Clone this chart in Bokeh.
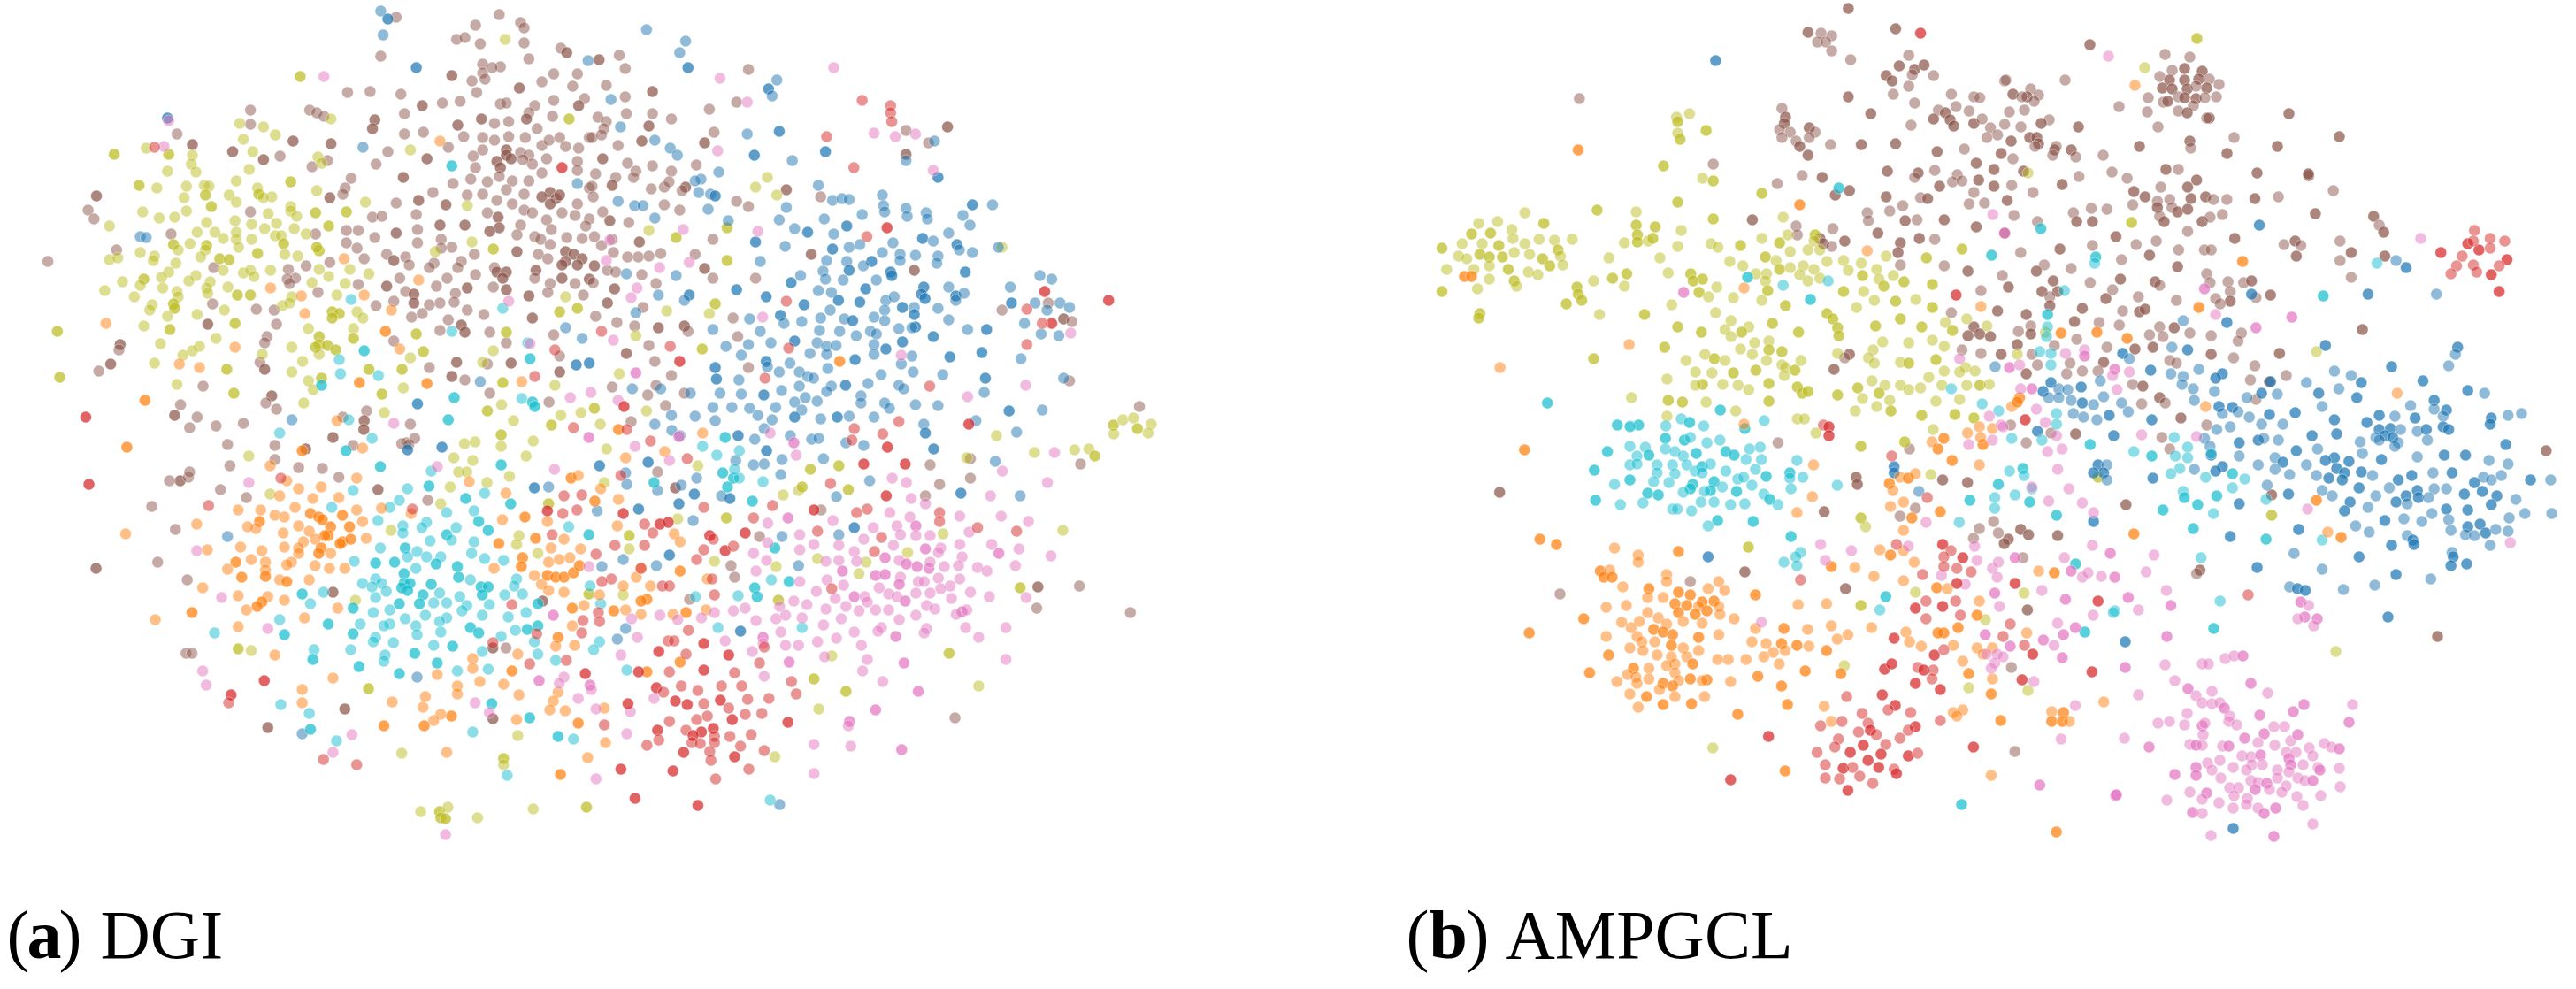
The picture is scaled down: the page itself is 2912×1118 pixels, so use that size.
from bokeh.plotting import figure
from bokeh.models import ColumnDataSource, Range1d
from bokeh.core.properties import value
from bokeh.embed import file_html
from bokeh.resources import INLINE

# (x, y) or (x, y, 1) where the third field marks a stacked, darker point
z1_olive = [(432,52),(259,94,1),(285,142),(208,147),(228,151),(238,160),(211,165),(129,175),(148,182,1),(102,182,1),(168,183),(167,193),(171,202),(147,201),(219,179),(216,199),(274,185),(277,192),(205,212),(251,213,1),(123,217,1),(138,220),(163,218),(178,217),(182,218),(179,228,1),(161,231),(199,228),(205,236),(223,220),(224,227,1),(235,230),(228,231),(273,223),(184,241,1),(126,247),(163,246),(153,253),(140,254),(98,263),(251,241),(251,246),(232,249),(256,252),(272,248,1),(298,247,1),(314,236),(283,263,1),(180,259),(204,257),(218,261),(172,270),(187,270),(205,270),(229,266),(239,260),(254,266),(264,272),(238,274),(243,274),(194,277),(205,278),(218,278),(166,283),(152,284,1),(180,285,1),(207,287),(245,283,1),(156,290),(179,290),(124,293),(246,295),(275,291,1),(273,287,1),(223,294,1),(136,297),(98,301),(105,299),(135,302),(175,298),(191,300,1),(199,301,1),(257,297),(154,305),(194,313),(211,316),(217,313),(220,320),(234,313),(275,312),(301,312),(317,317),(148,315),(142,321),(171,319),(165,325),(183,326),(127,323,1),(109,326),(124,330),(94,336),(119,343),(143,333),(155,337),(156,343),(180,333),(181,339),(198,332),(206,341,1),(217,341,1),(269,327),(283,320),(297,328),(290,341),(134,352),(132,358),(152,351,1),(153,356,1),(147,365),(172,363),(195,358),(244,353),(252,343),(250,350),(286,360,1),(292,362,1),(286,367,1),(307,360),(312,367),(127,376),(149,380,1),(204,373,1),(54,382,1),(266,379),(304,379),(188,390),(141,396),(275,388,1),(275,397,1),(282,398,1),(272,400,1),(289,403,1),(252,400),(275,408),(304,390,1),(174,399),(168,404),(160,409),(227,408),(136,418),(261,416),(352,412),(363,405,1),(357,385,1),(404,281),(400,240),(352,177),(373,292),(422,289,1),(486,142,1),(483,343),(478,360,1),(493,356,1),(422,404),(433,383,1),(413,417),(345,425,1),(317,425,1),(197,425,1),(56,434,1),(155,442),(252,428),(266,438),(277,435,1),(270,448),(346,446),(328,453,1),(430,440,1),(474,443),(203,452,1),(262,463),(429,465),(417,472,1),(330,474),(479,477),(496,474),(507,469,1),(439,483),(471,488,1),(513,488),(428,497,1)]
z1_brown = [(340,27),(327,71),(427,24),(407,36),(445,33),(448,39),(391,52),(398,50),(411,57),(448,56),(479,62),(484,67,1),(452,74),(511,77,1),(413,80),(428,83),(421,84),(413,90),(415,97),(404,99),(387,93,1),(473,91),(493,91),(463,100),(489,105),(517,105),(444,107,1),(408,112),(299,112),(318,111),(344,114),(362,127,1),(379,124),(394,122),(428,125),(433,124),(473,121),(499,119),(494,127,1),(457,127),(452,135),(450,142,1),(347,136),(267,132),(273,135),(279,139),(217,132),(217,148),(155,159),(322,143,1),(320,153,1),(347,159),(363,157),(392,149,1),(412,142,1),(423,147),(435,145),(472,139),(459,153),(510,140),(517,146),(512,153),(397,162),(413,163),(423,166),(435,162),(449,163),(168,171,1),(202,179,1),(253,167,1),(285,170,1),(384,174),(333,179),(366,187,1),(242,184),(228,188,1),(282,189),(269,196),(323,193),(413,177),(405,184),(433,177,1),(433,183,1),(437,187,1),(425,190,1),(428,197,1),(445,180),(452,183),(455,193),(447,188),(463,172),(469,166),(478,163),(483,173),(494,175),(467,187),(493,190),(493,200),(503,163),(510,162),(514,188,1),(407,197),(427,207),(463,203),(508,203),(505,213),(302,209),(297,220),(295,227),(284,231,1),(346,208,1),(403,210),(388,215),(417,213),(438,212),(452,212),(433,222),(413,227),(371,225),(400,228),(359,234,1),(340,237),(382,239,1),(425,234),(438,238),(448,227),(448,245),(470,225,1),(463,230,1),(475,232,1),(470,238,1),(478,228,1),(493,238),(506,230),(503,220),(520,217),(87,229,1),(80,245),(85,255),(217,247),(320,253),(328,252),(357,250),(417,248),(426,253,1),(427,265,1),(455,248),(467,256),(480,248),(491,251),(503,255),(514,247),(519,258,1),(377,262,1),(398,262,1),(358,267),(419,269,1),(445,262),(471,267),(500,263),(298,268),(308,268),(340,271,1),(322,276),(272,272),(150,272),(442,273),(457,275),(462,278),(484,276),(497,277),(507,275),(298,282),(358,282),(378,278),(387,287),(378,288),(470,284),(513,287),(307,288),(104,290),(442,292,1),(406,295),(460,295),(468,300),(483,292,1),(490,295,1),(483,303,1),(497,300,1),(505,297,1),(493,307,1),(480,307,1),(508,308,1),(332,295),(338,302,1),(348,298),(351,307),(313,300),(284,304),(264,308),(186,310),(249,312),(395,303),(392,310),(372,305),(368,310),(423,310),(425,315,1),(433,315,1),(430,322,1),(458,313,1),(457,322),(407,318),(343,322),(383,322),(255,322),(248,323),(250,328),(480,322,1),(503,323,1),(520,313),(470,328),(468,338),(491,328),(332,331,1),(308,329),(374,331),(400,333,1),(422,332),(433,335,1),(348,337),(274,338),(390,339),(452,342,1),(498,341),(355,340,1),(355,350,1),(338,348),(323,353),(389,349),(377,350),(368,352),(400,358),(185,351),(222,357),(237,358),(353,366),(362,362),(414,363),(455,367,1),(509,365),(518,351,1),(384,369),(181,374,1),(239,374),(377,381),(395,375,1),(398,383,1),(419,383),(473,386),(433,395),(231,388),(229,395),(338,393),(107,397,1),(106,403),(478,410),(391,417,1),(437,418,1),(417,419),(368,423),(225,417),(229,425,1),(99,419,1),(89,427),(478,428,1),(177,444),(398,437),(419,452),(469,462),(522,445),(235,455,1),(230,463),(239,470),(158,465),(153,477,1),(172,479),(188,489),(211,486),(202,492,1),(143,492),(166,492),(315,472),(295,479),(313,483,1),(313,492,1),(272,494,1),(352,487),(406,493),(449,493),(46,303),(387,433,1)]
z1_blue = [(327,20),(333,29,1),(329,47),(357,84,1),(502,76),(521,120),(147,141,1),(312,174),(124,275),(129,276),(493,215),(497,390),(483,378),(492,420,1),(503,418,1),(411,439),(358,464,1),(252,482)]
z1_cyan = [(387,195,1),(302,346),(313,404,1),(292,414),(293,430),(325,432),(387,382),(430,356),(453,413,1),(451,395),(389,457,1),(446,458),(455,462,1),(457,467,1),(384,482,1),(277,443,1),(300,482),(242,497)]
z1_orange = [(377,167),(296,300),(359,324),(234,333),(260,342),(313,341),(263,362),(336,358),(331,382,1),(95,373),(204,400),(343,402),(157,419),(174,423),(128,460,1),(309,440,1),(366,441,1),(446,439),(290,483)]
z1_red = [(136,174),(480,197,1),(78,479,1),(68,499),(457,433),(474,403),(513,382),(489,491)]
z1_pink = [(279,94),(144,173),(148,144),(435,348),(453,396),(487,457),(504,451),(338,486),(518,300),(522,280),(522,392)]

z2_brown = [(676,75,1),(693,70),(698,85),(658,90,1),(653,105),(682,104),(721,111,1),(698,117),(664,119),(658,127,1),(699,136),(721,136),(718,150,1),(737,142),(769,131),(802,86),(792,123),(675,140),(682,145),(680,153),(670,163),(678,160),(712,167,1),(692,172),(659,175),(773,157),(765,169,1),(679,187,1),(658,192),(658,200),(700,192),(721,195),(758,194),(707,201),(705,208),(737,201),(673,204),(690,208),(670,218),(687,217,1),(720,221),(731,219),(735,213),(749,219,1),(746,223),(671,230),(658,233),(657,238),(731,239),(744,245),(792,235),(802,241),(679,247),(655,250),(667,255),(685,257,1),(701,259),(665,263),(863,230),(834,222,1),(672,275),(660,277),(687,278),(678,285),(710,281,1),(772,278),(688,293),(700,298),(709,298),(718,297),(728,294),(757,295),(765,311,1),(655,293,1),(660,298,1),(653,305,1),(672,308,1),(683,313),(690,315),(712,318),(772,322),(808,322),(855,295,1),(942,313,1),(668,323,1),(657,328),(671,327),(724,328),(689,334,1),(662,341),(683,350,1),(713,355),(673,365),(789,367),(1016,358),(691,372),(706,376),(726,378,1),(748,376,1),(751,382),(793,388),(665,381),(718,398),(699,407,1),(723,416),(655,421),(802,423),(737,432),(687,445),(724,443),(717,454),(748,452),(732,466),(703,484),(1073,438),(1132,467),(1068,368,1),(1075,371),(1055,350),(935,155),(935,182,1),(954,169),(970,151,1)]
z2_blue = [(716,41),(749,54),(744,67),(751,84,1),(666,76),(826,98),(819,108,1),(822,116),(686,120),(694,151),(723,166),(736,175),(742,183),(801,159),(828,156,1),(807,183,1),(839,189),(867,179,1),(959,167),(935,189),(777,202),(762,210),(757,212),(760,225),(770,227),(774,229,1),(861,217),(962,208,1),(873,234),(881,232),(887,233),(915,228),(916,240),(917,247),(935,243),(936,252),(952,248),(953,255),(991,239,1),(1008,239),(983,251),(989,262),(898,250),(866,255),(834,242),(828,256),(768,244),(723,254),(706,240),(713,240),(692,235),(658,215),(785,257),(841,266),(852,270,1),(885,263,1),(874,272),(808,281,1),(833,286),(949,277,1),(958,280),(971,271),(978,284,1),(980,290),(991,293),(1013,287),(887,287),(896,284),(873,289,1),(915,293),(924,282),(930,295),(930,302),(943,296),(962,297),(961,305),(868,302),(885,303),(812,303),(906,303,1),(899,308),(865,314),(887,313,1),(922,315,1),(923,319,1),(985,315,1),(699,317),(741,319),(846,319),(838,327,1),(867,323),(882,324),(910,324),(901,334,1),(950,332,1),(948,340,1),(951,345,1),(971,332),(977,342,1),(977,347),(984,339),(792,335,1),(861,336),(872,338),(878,347,1),(1023,332),(1024,350,1),(752,341,1),(726,341),(748,347),(817,343,1),(849,352,1),(896,349,1),(918,347),(925,343),(932,355,1),(942,355),(942,363,1),(962,356),(871,358),(917,358),(917,370),(707,361),(803,368),(829,364,1),(832,373),(847,371),(863,367),(883,368),(890,370,1),(908,366),(971,369),(1035,373),(1044,350),(1065,350),(1073,355),(1054,358),(1049,385),(1064,387),(1048,319),(1058,323),(772,380),(812,382),(862,381),(879,382),(905,382),(910,385),(929,379),(943,377,1),(940,378),(987,380),(1003,380,1),(662,390),(821,395),(841,393,1),(860,395),(893,387),(908,397),(932,394,1),(958,388,1),(783,399),(802,397),(868,399),(876,398),(918,402,1),(854,407),(796,409),(868,408),(908,408),(940,410),(972,411,1),(999,406,1),(1032,413),(892,414,1),(817,416,1),(837,418),(667,418,1),(657,421,1),(774,423,1),(818,422),(869,424),(931,419),(845,428),(852,433),(828,428),(857,435),(914,431),(941,428),(966,431),(775,436,1),(1002,435,1),(794,437),(1068,435),(845,444),(884,443,1),(903,441),(929,443),(933,447),(872,444),(868,450),(704,447),(728,447),(753,452),(778,452),(796,453),(815,454,1),(830,449),(1001,451),(850,457),(841,462),(860,461),(897,455),(897,463),(917,463),(921,469),(943,465),(962,466),(772,468),(788,468),(803,469),(810,477),(825,468),(847,471),(1022,472,1),(1050,471),(737,477),(757,478),(774,483),(822,482),(816,492),(841,479,1),(863,481),(877,479,1),(887,478),(908,479),(950,487),(723,487),(738,493),(994,483),(1028,496),(952,497,1),(793,497,1)]
z2_red = [(898,121),(922,127),(922,135),(923,145),(868,162),(891,197),(902,275),(919,265,1),(1052,337,1),(834,348),(1037,357),(1058,373,1),(1050,373),(1037,397),(1106,347,1),(678,382),(736,399),(836,401),(744,416,1),(816,435),(955,444),(697,467,1),(891,492),(929,484),(655,490),(699,493),(988,487,1),(915,498)]
z2_pink = [(874,84),(778,96),(801,123),(908,158),(926,162),(943,159),(776,178),(958,200),(810,269),(747,267),(685,279),(682,302),(727,310),(752,304),(708,333),(703,344),(814,366),(688,392),(931,409),(707,429,1),(669,451),(692,460),(653,457),(1036,443),(1074,384),(987,456),(821,497),(667,499)]
z2_olive = [(818,208),(808,219),(826,228),(718,268),(741,276,1),(784,265,1),(784,302,1),(774,351,1),(769,362),(733,359),(763,402,1),(707,387),(657,355,1),(693,430),(716,472),(672,469,1),(660,474),(677,487),(1016,287),(1012,497),(1110,488,1),(1118,482),(1127,480),(1130,492,1),(1142,487)]
z2_orange = [(667,486,1),(879,416,1)]

z3_blue = [(277,483),(404,513,1),(375,516,1),(537,534,1),(578,530,1),(583,487),(598,495),(605,498),(482,559,1),(494,558),(559,542),(560,555),(606,556),(618,548),(617,566,1),(535,585),(570,583,1),(603,577,1),(616,596),(597,634,1),(557,640),(585,647),(539,648),(223,614),(559,718),(552,730),(383,773),(286,837)]
z3_cyan = [(267,497),(345,503),(323,517,1),(352,535,1),(395,540),(454,533,1),(393,557,1),(375,560),(329,562),(424,571,1),(440,565),(368,573),(311,581),(360,581),(462,577,1),(408,587),(431,585),(350,596),(435,597,1),(371,602),(391,598),(387,604),(443,607,1),(416,604),(408,612,1),(371,610),(394,619),(412,618),(431,620),(352,627),(373,627,1),(375,637),(383,631),(391,637),(403,637),(429,633),(440,639),(456,641),(330,642),(348,644,1),(364,643,1),(399,645,1),(417,648,1),(418,660,1),(382,650),(372,656,1),(348,662),(337,667),(353,667),(345,671),(428,663),(467,662),(395,668,1),(372,667,1),(377,667,1),(370,672,1),(375,675,1),(357,676),(286,679,1),(304,677),(388,680,1),(385,690,1),(402,678),(437,671,1),(443,671,1),(438,680,1),(457,680),(465,670),(472,679),(419,682),(348,683),(293,690),(368,690,1),(397,689),(408,689),(425,692),(444,691),(485,690,1),(329,695,1),(346,700),(360,697),(421,698),(438,703),(460,705),(475,700),(373,707),(390,703),(408,706),(402,710),(267,708),(335,713),(360,713),(355,715),(382,715),(383,725),(308,713,1),(403,722),(428,717,1),(435,723,1),(466,720),(476,719,1),(485,715,1),(212,723),(271,725,1),(329,724,1),(348,728),(346,733),(363,734),(454,727),(482,733),(537,733),(532,742),(327,742),(397,737),(413,738,1),(296,742),(295,753,1),(381,746,1),(438,744),(485,747),(356,748),(355,755),(500,754),(334,761,1),(400,757,1),(368,769,1),(417,766),(443,764),(560,765),(446,803,1),(268,804),(292,814),(293,832,1),(315,845),(478,819,1),(430,835),(502,840,1),(515,843),(459,884),(583,553,1),(587,562),(511,603),(528,612,1),(620,513),(529,670),(538,690),(618,683)]
z3_orange = [(138,513,1),(137,611),(286,517,1),(337,514),(259,534),(332,548),(273,551),(283,560),(302,558),(267,568),(295,571),(317,570),(280,581),(232,584),(251,584),(332,584),(353,582),(197,600),(263,590),(271,592),(293,588,1),(300,592,1),(303,595,1),(320,590,1),(378,588),(250,597,1),(247,605),(240,603),(283,602),(292,608),(310,603,1),(308,613,1),(305,613,1),(326,603,1),(337,597),(270,610),(320,620,1),(327,617,1),(340,616),(287,620),(283,627),(297,617),(234,626),(271,626),(206,629),(252,630),(302,627,1),(300,633,1),(310,633),(318,622,1),(283,633),(243,640),(230,643,1),(223,651),(255,643),(255,652),(277,643),(273,646),(297,647),(309,650),(322,650),(235,660,1),(255,659,1),(267,663),(273,665,1),(292,663),(202,672),(232,681),(271,686),(257,682),(252,688,1),(248,693,1),(239,697),(316,695),(288,706),(193,700,1),(162,708),(232,716),(263,748),(430,752),(430,763),(468,747),(463,766,1),(400,770),(436,778),(456,781),(312,774),(286,787),(286,802),(417,783),(417,792),(390,795),(388,807),(362,801),(469,793),(502,790),(498,800),(495,810),(508,811),(412,817,1),(403,815),(397,822),(389,828,1),(355,828,1),(467,821),(519,825,1),(541,808),(542,847),(527,864),(408,858),(504,883,1),(452,622,1),(455,595),(474,592,1),(458,565),(427,552),(493,597),(483,616,1),(507,617),(472,638,1),(471,648,1),(448,650),(496,627),(494,643),(521,628),(512,638),(503,640),(482,658),(488,668),(493,658,1),(500,660,1),(507,660,1),(515,655,1),(520,647,1),(494,675),(507,677),(533,574,1),(538,560),(553,572),(513,548,1),(519,545),(559,525),(552,602),(592,518),(553,493,1),(549,698,1),(559,697),(524,692),(514,695,1),(514,715),(572,702),(577,685,1),(572,687,1),(580,670),(568,660),(572,650),(557,670),(537,680),(599,612),(606,620),(502,728,1),(500,738),(516,737),(577,767,1),(605,756,1),(610,700,1),(598,702)]
z3_red = [(106,555,1),(268,548),(207,579),(379,583),(515,491),(560,493),(580,506),(611,526),(555,545),(507,568),(522,567),(493,585,1),(506,588),(518,584),(557,588,1),(575,600),(582,610),(590,602,1),(593,598,1),(497,612),(575,624),(550,624),(534,634),(463,691),(572,650),(547,662),(539,665),(588,670),(597,670),(536,700),(537,710),(523,709),(522,723),(484,724),(447,734),(613,720),(478,758),(509,754),(597,766),(587,745,1),(593,733),(600,732),(611,747),(525,769,1),(570,767,1),(254,777,1),(226,793,1),(224,802),(304,866),(332,872),(541,827),(561,803,1),(585,785,1),(592,790),(607,784),(600,800),(612,804,1),(595,823),(587,833,1),(577,850),(608,858,1),(555,877,1),(599,879,1),(567,910,1),(619,918,1),(610,835),(615,845),(620,822)]
z3_pink = [(363,487),(400,535),(241,553),(499,538),(567,512),(596,528),(528,502,1),(528,648),(197,630),(218,683),(257,718),(202,766),(205,782),(312,858),(328,838),(432,802),(444,813),(534,809),(486,777,1),(507,773),(503,780),(529,782,1),(530,787),(519,797),(560,837),(534,888),(407,951),(583,797),(563,812),(555,748),(569,728),(498,703,1),(564,707),(588,704),(603,708),(600,683),(622,705)]
z3_olive = [(241,523),(259,566),(414,525),(430,528),(423,509),(432,507),(454,499,1),(454,512),(463,484),(481,506),(475,523),(496,489,1),(538,488),(543,515),(418,541),(425,541),(411,558),(442,553),(461,546),(403,577),(541,553),(494,577,1),(361,607),(469,613),(467,623),(485,633),(562,613,1),(562,628),(603,594),(619,534),(557,680),(528,679,1),(331,686),(232,741,1),(243,743),(342,786,1),(468,839),(370,859),(456,865,1),(456,872),(386,925),(402,925,1),(403,932,1),(407,933,1),(409,920),(434,932),(481,922),(526,920,1)]
z3_brown = [(168,487),(191,491),(226,487,1),(236,485),(256,488,1),(223,510),(263,511),(263,527),(225,534),(289,515,1),(326,487,1),(338,493,1),(312,502,1),(329,511),(370,509),(374,508),(376,510),(381,503),(183,551,1),(190,547),(174,551),(191,541),(283,536),(303,537),(317,547),(217,561),(239,570),(159,580),(350,561,1),(392,573),(179,606),(312,677,1),(164,643),(189,663),(447,740,1),(458,740),(489,687,1),(188,746),(193,746),(322,809,1),(257,830,1),(112,650,1),(447,820,1)]

z4_orange = [(705,492,1),(776,497),(744,518),(711,524),(707,573),(703,602),(752,611),(757,620),(728,638),(702,645,1),(757,653,1),(722,657),(722,667),(709,670),(732,670),(733,688),(725,685,1),(780,662),(712,696),(723,702),(735,703),(751,702),(762,700,1),(779,697),(757,756,1),(730,767,1)]
z4_blue = [(736,487),(750,494),(757,500),(787,484),(820,504),(828,492),(806,500,1),(850,500),(868,504),(874,503),(897,508),(912,511),(853,482,1),(876,483),(890,482,1),(920,482),(963,487),(964,497,1),(971,515,1),(1041,496),(830,517,1),(729,530,1),(804,528),(819,533),(828,532),(843,527),(878,526),(842,544),(771,548),(758,556),(738,562),(712,553),(769,566,1),(792,568),(799,571,1),(917,551),(889,569),(1044,568),(1023,529),(994,565,1),(722,583,1),(756,577,1),(768,596),(904,604,1),(891,612),(843,614),(857,647),(748,635,1),(737,647),(709,640),(808,721,1),(841,917)]
z4_cyan = [(776,512),(788,522),(807,485),(795,502,1),(807,517),(793,542,1),(802,548,1),(807,548),(797,558,1),(803,538),(827,552),(818,574,1),(734,553,1),(837,627,1),(834,663),(849,665,1),(820,672,1),(822,682,1),(806,681),(770,682),(789,717),(860,717),(833,912),(712,764),(705,728)]
z4_red = [(904,492),(712,495,1),(928,498),(902,505),(932,513,1),(733,506),(763,526),(942,485),(1001,487,1),(947,532,1),(912,532,1),(884,554),(931,568,1),(777,581),(709,589,1),(727,601),(740,600,1),(747,598,1),(734,611),(819,593),(835,579),(906,587),(915,583),(976,587),(976,597),(782,613,1),(785,617),(812,610,1),(873,608),(927,615),(1008,604),(1041,608),(870,584,1),(703,625),(727,624),(777,629),(795,630,1),(802,625),(771,640),(921,631),(725,650),(784,662),(742,670),(748,670),(885,673),(786,680),(764,720),(747,732),(752,732),(777,735,1),(739,744,1),(762,747),(798,748,1),(748,767),(777,765,1),(722,770,1),(803,768),(824,757),(828,739),(737,785),(743,790),(758,783),(772,788),(792,783),(809,783),(851,778),(855,792),(753,800,1),(763,804,1),(777,803),(791,799,1),(814,798),(832,797),(713,803,1),(798,808),(812,815),(826,814),(801,821,1),(780,817),(771,821),(748,823),(848,824,1),(738,833,1),(762,833),(775,835,1),(785,831,1),(768,839,1),(786,840),(799,840),(817,838),(739,844),(728,850),(767,847),(774,848),(786,847),(808,851),(760,858,1),(782,857),(828,856),(803,863,1),(783,867),(815,877),(707,877,1),(751,879,1),(787,888),(718,910,1),(772,918,1)]
z4_pink = [(719,512),(748,528),(833,497),(855,522),(756,501,1),(853,508,1),(1029,540),(1073,519),(1067,553),(936,548),(948,553),(952,571),(964,577),(1019,568),(934,587),(848,593,1),(831,599),(886,596),(951,592),(956,602,1),(940,602),(920,604),(993,591),(1028,591),(1051,597),(1001,609),(858,612),(943,612),(956,613),(968,613),(912,617),(831,621),(870,623),(891,624),(937,624),(993,623),(1020,623),(1043,628),(964,628,1),(977,627),(975,632),(858,629),(904,631),(819,633),(830,641),(1070,636),(1026,633,1),(930,638,1),(995,637),(880,642),(891,641),(906,642),(942,641),(948,645,1),(957,648,1),(967,650,1),(968,643),(980,648),(992,647),(1008,649),(1016,653),(1040,647),(821,653),(894,653,1),(922,658,1),(930,657,1),(943,660),(958,665),(975,661),(993,662),(858,665),(881,663),(895,669),(925,672),(942,668,1),(963,665),(985,670),(977,673),(872,676),(904,682,1),(913,682),(933,679),(956,678),(968,678),(1002,677),(888,684),(940,682),(947,687,1),(915,688),(986,684),(1018,682),(1049,683),(853,687),(864,691),(897,693),(841,693),(812,695),(802,698),(880,696),(908,698),(922,697),(933,697),(965,692),(972,696),(995,699,1),(990,702),(999,697),(956,703),(786,700),(775,706),(740,703),(755,708),(717,707),(821,709),(838,707),(846,703),(860,706),(893,707),(942,708),(878,714),(842,722),(904,722),(927,717),(924,721),(965,718),(963,723),(998,717),(1032,717),(939,727,1),(1009,728),(889,729),(873,733),(722,729),(795,732),(827,728,1),(827,735),(846,737),(857,737),(910,737),(818,744),(879,750),(915,753),(849,756,1),(946,757,1),(1032,753),(708,748),(828,772),(911,766),(928,778),(958,789,1),(735,797),(922,810,1),(900,823,1),(899,828),(712,836),(870,849),(901,851),(944,855,1),(870,882),(716,813)]
z4_olive = [(772,534),(755,594),(714,628),(709,680),(796,593,1),(786,642),(714,613,1),(844,567),(857,562),(860,558,1),(867,538,1),(891,534,1),(899,561,1),(999,525),(1024,500),(1056,519),(1090,516),(1102,515),(1107,523,1),(1123,488,1),(1123,498),(1132,485),(1140,483),(1143,492,1),(1155,486),(1152,497),(979,611),(1080,607),(873,639),(914,643),(949,632),(908,656),(838,648),(1044,672,1),(840,686,1),(885,749),(984,746,1),(870,775,1),(897,789,1),(1009,783),(874,809),(837,863)]
z4_brown = [(715,495),(713,493),(738,541),(753,559,1),(714,567),(708,614),(709,587),(824,614),(800,647),(803,660),(765,685),(968,533),(1002,526),(1002,548),(976,555),(964,568),(876,584),(1095,532),(1059,671,1),(1094,670),(1058,695),(989,819),(1137,700)]

z5_olive = [(1826,140),(1837,136),(1827,145,1),(1851,155,1),(1827,158),(1829,165,1),(1815,195,1),(1848,209),(1857,212,1),(1827,236,1),(1898,226,1),(1759,245,1),(1698,248),(1792,247),(1792,262,1),(1808,264,1),(1857,255,1),(1916,253),(1659,260),(1675,258),(1714,260,1),(1653,272,1),(1669,271,1),(1687,267),(1688,277),(1830,268),(1645,283),(1628,288,1),(1662,283),(1676,285,1),(1710,278),(1723,279),(1738,278),(1698,283),(1660,295,1),(1668,298,1),(1679,298,1),(1642,297),(1649,300),(1689,293),(1702,295),(1726,290,1),(1728,297),(1713,300,1),(1719,308,1),(1730,307),(1632,312),(1668,308),(1684,312,1),(1701,315),(1709,318),(1655,312),(1668,323),(1689,325,1),(1691,331),(1658,334),(1628,337,1),(1660,362,1),(1659,367,1),(1782,282),(1793,273,1),(1793,281,1),(1802,280),(1806,277,1),(1827,286),(1855,283),(1861,287),(1880,285,1),(1898,277),(1913,282,1),(1920,273),(1943,273,1),(1942,280),(1769,299),(1812,299),(1871,303),(1901,298,1),(1922,292),(1937,290),(1947,290),(1882,308),(1910,302),(1953,303),(1967,302),(1982,305),(2003,297),(2037,299,1),(2067,289,1),(1971,313),(1995,312),(1893,317),(1902,317),(1913,312,1),(1922,310),(1933,308),(1942,312),(1819,316),(1838,317,1),(1848,323,1),(1840,325,1),(1983,319,1),(1997,323),(2009,319),(1930,318),(1937,325),(1947,322),(1901,325),(1756,325),(1772,322,1),(1784,317,1),(1782,331),(1742,332,1),(1743,340,1),(1733,351,1),(1746,347,1),(1845,338,1),(1860,332),(1853,343),(1874,344),(1903,336,1),(1898,347),(1918,353,1),(1967,337,1),(1984,337),(2001,331,1),(2018,326,1),(2042,329,1),(1993,347),(2011,348,1),(2028,346),(1978,355),(2042,355,1),(1822,352),(1761,363),(1799,363,1),(1859,361),(1953,362,1),(1958,368,1),(1962,378,1),(1963,387,1),(2015,368,1),(1827,377,1),(1847,383,1),(1907,373,1),(1929,383,1),(1994,376,1),(2033,377,1),(2053,372),(2059,381,1),(2071,368),(2088,376),(1872,370),(1867,380),(1887,377),(1881,383,1),(1872,388),(1816,400,1),(1892,395),(1880,402),(1904,393),(1904,403,1),(1915,405,1),(1756,413,1),(1834,415),(1850,408),(1858,413,1),(1867,415),(1890,408),(1931,415),(1902,415),(1915,420),(1962,407),(1992,403),(2000,394),(1988,412),(1993,418),(2022,395),(2042,392),(2052,399),(2015,417),(2022,418,1),(2045,414,1),(1842,428),(1856,429),(1874,429,1),(1893,426,1),(1918,423),(1926,426,1),(1917,432),(2052,427),(2070,423),(2065,428),(2078,427),(1818,436),(1848,442,1),(1842,443),(1865,442),(1878,443),(1887,448),(1904,441,1),(1928,445,1),(1932,452,1),(1937,450,1),(1962,454,1),(1979,446,1),(1991,438),(2002,443),(1997,452,1),(2015,443),(2022,448),(2032,446),(2039,434),(2050,443),(2071,443),(2082,443,1),(2090,442),(1983,458),(1995,467),(2006,460),(2007,472,1),(2045,461),(2065,459),(1788,457),(1819,460,1),(1831,462,1),(1851,462),(1904,461,1),(1977,472),(1876,472),(2061,476,1),(2033,477,1),(1928,481),(1934,481),(1818,478),(2077,480,1),(2044,493)]
z5_brown = [(1971,17,1),(1937,44,1),(1948,45),(1957,48),(1945,55),(1952,55),(1957,65),(2011,40,1),(1973,75),(2022,70),(2014,82,1),(2027,86,1),(2035,81,1),(2003,93,1),(2008,99,1),(2022,105),(2025,92),(2043,93),(2009,114),(1971,117,1),(1744,119),(2027,124),(1990,136,1),(2103,99),(2111,114,1),(2120,117),(2058,114),(2077,117),(2082,118),(2047,132),(2053,135,1),(2062,128),(2043,142,1),(2057,143,1),(2060,150,1),(2073,133),(2077,147,1),(2084,142),(2107,135),(2118,132),(2024,149),(1915,130),(1918,140,1),(1917,147,1),(1913,154),(1922,157),(1915,163),(1938,152,1),(1943,157),(1938,163),(1927,167),(1930,173,1),(1937,183,1),(1956,171),(1982,171,1),(2011,170,1),(2091,152),(2097,160),(2088,163),(2103,148),(2117,150),(2108,167,1),(2100,181,1),(2110,187),(2046,179,1),(2069,176),(2079,192,1),(2094,199,1),(2004,201,1),(2030,203,1),(2027,208),(2044,200),(2063,205),(2059,213),(2067,212),(2081,211,1),(2048,218,1),(2094,218,1),(2109,218,1),(2077,225),(2003,230,1),(2032,231),(2038,232,1),(2073,238),(2086,237),(2105,233,1),(2017,240),(2006,246),(1987,248),(1988,257),(2019,257,1),(2029,256),(2052,256,1),(2079,264,1),(2111,252),(1890,256,1),(1927,263),(1928,273),(1958,266),(1996,271,1),(2031,277,1),(2044,278),(2103,271,1),(1947,277,1),(1950,283,1),(1957,286),(1968,280,1),(2015,282,1),(2013,293,1),(2015,307),(2052,308),(2072,314,1),(2117,293),(2101,319),(2107,332,1),(2083,336),(2097,359,1),(2058,361),(2122,362,1),(2115,382),(2077,377,1),(2072,387,1),(2082,385,1),(2091,388,1),(2113,397,1),(2100,408,1),(2067,403),(2083,407),(1972,408,1),(1968,412),(1959,425,1),(1857,193),(1932,206),(1911,215),(1949,208,1),(1972,223,1),(1960,228,1),(2108,488)]
z5_blue = [(1859,76,1),(2095,422),(2108,440)]
z5_cyan = [(1963,220,1),(1886,321,1),(1916,330),(1954,325),(1939,346,1),(1717,463,1),(1863,471,1),(1900,483),(1776,488,1),(1787,489),(1794,488,1),(1817,489),(1830,481),(1837,485,1),(1849,489),(1883,492,1),(2092,296,1),(2058,447),(2084,464),(2098,472),(2110,473)]
z5_orange = [(1743,177,1),(1930,239,1),(1987,291),(1883,333),(1647,320,1),(1653,320,1),(1786,397),(1677,423),(2083,354),(2113,453,1),(2110,465,1),(2070,497),(2082,490),(2093,492),(1883,487)]
z5_red = [(2032,45,1),(1954,492,1),(1950,488),(1958,493,1),(2062,341,1),(2117,457,1),(2118,482,1)]
z5_pink = [(1832,338,1),(2093,250),(2103,271,1),(2065,413),(2108,423),(2117,420),(2110,430),(2090,478),(2100,488),(2100,497),(2120,443,1)]

z6_blue = [(2496,262,1),(2618,302),(2627,310,1),(2593,340,1),(2654,340),(2489,340,1),(2428,370),(2467,372,1),(2555,398,1),(2432,403,1),(2418,400),(2673,400,1),(2671,408),(2374,407,1),(2380,413),(2665,421),(2614,422,1),(2399,426,1),(2442,425),(2463,430,1),(2457,435,1),(2563,427),(2578,432),(2587,440,1),(2642,438,1),(2417,430),(2428,433),(2427,442),(2437,447),(2506,439,1),(2354,438),(2337,445,1),(2538,440),(2310,440,1),(2303,450,1),(2317,447),(2308,457),(2325,448),(2317,457),(2456,450),(2498,452,1),(2485,457),(2512,453),(2549,452,1),(2567,447),(2682,449,1),(2697,452),(2583,457,1),(2357,456),(2328,460),(2338,463,1),(2348,465),(2438,460),(2373,463),(2652,460,1),(2631,466),(2663,471,1),(2460,467,1),(2472,468,1),(2552,467),(2652,470),(2330,475),(2339,479),(2351,482),(2362,477,1),(2379,473),(2730,475),(2718,477),(2703,480,1),(2702,487,1),(2528,474,1),(2505,476,1),(2463,475),(2477,473),(2487,479),(2498,487),(2517,487),(2563,482,1),(2400,482,1),(2617,478),(2603,477,1),(2592,485,1),(2635,480,1),(2660,478),(2458,493),(2470,490),(2603,493,1),(2613,492,1),(2622,493),(2600,502),(2608,500,1),(2615,502,1),(2620,508),(2603,505),(2617,512),(2637,495),(2645,493,1),(2660,490,1),(2665,493,1),(2646,505),(2366,500,1),(2298,495,1),(2543,500,1),(2565,498,1),(2447,503),(2495,505,1),(2478,508,1),(2513,505),(2452,512),(2500,503),(2586,507),(2548,515),(2716,510,1),(2529,517,1),(2453,522,1),(2478,523),(2588,520),(2605,527,1),(2637,524),(2661,522,1),(2680,522,1),(2563,525,1),(2555,528,1),(2576,529,1),(2510,525),(2517,530,1),(2510,538),(2701,528),(2495,533),(2538,533),(2463,535,1),(2457,540,1),(2438,538),(2565,537,1),(2572,542,1),(2718,532),(2352,533,1),(2360,533),(2357,542,1),(2348,542,1),(2360,550),(2523,544),(2547,545),(2558,548,1),(2570,550,1),(2587,541,1),(2597,545),(2668,542,1),(2651,542),(2632,545,1),(2620,550,1),(2738,550,1),(2756,550),(2696,547),(2712,545),(2703,550),(2688,553,1),(2401,548,1),(2552,562),(2585,559,1),(2612,559),(2695,563,1),(2663,560),(2652,560),(2637,562,1),(2627,568,1),(2618,575,1),(2638,570,1),(2647,570),(2628,577),(2679,566,1),(2708,568,1),(2725,572),(2503,556),(2522,566,1),(2561,568),(2600,568),(2703,578,1),(2577,575,1),(2572,585,1),(2593,581),(2478,577,1),(2663,583,1),(2682,584,1),(2733,588),(2757,588),(2608,596,1),(2625,594),(2641,597),(2650,588),(2665,595),(2719,593),(2582,602),(2531,606,1),(2682,603,1),(2693,600,1),(2667,607),(2594,609),(2680,612),(2688,613),(2698,610,1),(2707,606),(2718,608),(2470,614,1),(2628,613),(2633,618,1),(2634,623,1),(2614,624,1),(2702,624),(2527,633),(2668,632),(2669,637,1),(2585,637,1),(2494,649,1),(2667,647,1),(2681,645,1),(2552,651),(2618,657,1),(2649,662),(2599,669),(2523,671),(2530,673,1),(2537,675,1),(2571,674),(2348,597,1)]
z6_brown = [(2260,218),(2275,217),(2294,225),(2271,234,1),(2320,216,1),(2335,207),(2365,203),(2378,209),(2412,202),(2424,202),(2494,204,1),(2540,206,1),(2562,223),(2440,211,1),(2408,219),(2432,219,1),(2384,224,1),(2394,230,1),(2405,235),(2416,233),(2435,232,1),(2448,230,1),(2455,233),(2467,233),(2492,232,1),(2513,230),(2383,239),(2405,242,1),(2418,242),(2423,247,1),(2432,244,1),(2407,252),(2411,258,1),(2330,248),(2346,243),(2360,244),(2333,258,1),(2347,258,1),(2298,258),(2277,251),(2445,258,1),(2452,253),(2463,250),(2546,249,1),(2598,252,1),(2603,262),(2607,270,1),(2432,269),(2368,275,1),(2474,277,1),(2528,280,1),(2518,284),(2533,285),(2529,297,1),(2347,285),(2386,284),(2404,280),(2318,289,1),(2283,293),(2398,296,1),(2424,290),(2447,290),(2453,290),(2568,280),(2578,293,1),(2568,302),(2373,301),(2608,297,1),(2304,307),(2297,314,1),(2328,311),(2423,309,1),(2267,320),(2578,321),(2449,317),(2272,332,1),(2312,325,1),(2345,327),(2372,323,1),(2403,326,1),(2407,330),(2452,327),(2468,326),(2482,327),(2489,325,1),(2302,337,1),(2316,337,1),(2365,335),(2359,345,1),(2470,337),(2493,344),(2506,341,1),(2388,343),(2422,347),(2457,345),(2470,348,1),(2461,351),(2309,343),(2309,353,1),(2262,359,1),(2338,356,1),(2288,363,1),(2374,359),(2389,360,1),(2394,357,1),(2331,371,1),(2353,372),(2371,375),(2407,377),(2420,378,1),(2292,376),(2292,385,1),(2281,382),(2256,389,1),(2333,391),(2398,386),(2410,388),(2434,384),(2453,387),(2480,384),(2477,393),(2280,397,1),(2313,398),(2360,400),(2385,402,1),(2401,400,1),(2293,408),(2453,408,1),(2473,412),(2514,407,1),(2588,380,1),(2327,418),(2357,417,1),(2352,427),(2416,415),(2422,418),(2492,421),(2298,420),(2288,430,1),(2324,430),(2338,427),(2520,432),(2488,437),(2505,439,1),(2383,442),(2392,444,1),(2407,457,1),(2412,463),(2391,464),(2493,459),(2426,480,1),(2449,488),(2332,498,1),(2409,502),(2416,515),(2288,508),(2274,488),(2310,497),(2507,567,1),(2377,578,1),(2258,597),(2283,606,1),(2290,612,1),(2263,611),(2272,617,1),(2268,623,1),(2316,613,1),(2285,638),(2443,652,1),(2440,656),(2289,697,1),(2752,517,1)]
z6_olive = [(2382,259,1),(2547,405),(2253,377),(2265,408,1),(2280,408),(2255,437,1),(2255,445,1),(2252,425),(2260,440,1),(2305,383),(2352,547,1),(2507,590,1),(2286,678)]
z6_cyan = [(2257,296,1),(2350,298,1),(2349,305),(2301,266,1),(2322,336),(2307,363,1),(2307,377),(2306,388),(2300,405),(2310,407),(2310,420),(2601,305),(2553,342,1),(2315,475),(2315,487),(2275,503),(2302,505),(2420,502),(2345,510,1),(2432,513),(2432,525),(2384,518),(2400,523,1),(2421,523),(2453,520),(2425,537),(2417,543),(2273,540),(2285,537,1),(2286,545),(2263,555,1),(2472,543,1),(2448,547),(2483,549),(2472,559),(2428,563),(2429,570,1),(2458,568,1),(2293,560),(2278,567),(2260,570),(2260,580),(2291,575,1),(2441,578,1),(2410,584,1),(2455,588),(2502,572),(2315,590,1),(2437,605,1),(2502,617,1),(2552,618),(2444,638),(2332,645,1),(2461,687),(2367,698)]
z6_orange = [(2442,355,1),(2481,303,1),(2351,383,1),(2378,390,1),(2319,384,1),(2448,467),(2619,452),(2282,457,1),(2275,467),(2280,462,1),(2258,490),(2547,573,1),(2557,609),(2569,615,1),(2384,611,1),(2299,653),(2313,655,1),(2255,615),(2260,627,1)]
z6_pink = [(2640,277),(2258,250),(2269,271,1),(2447,334,1),(2457,363),(2525,366,1),(2493,378,1),(2323,407),(2340,403),(2340,410,1),(2367,425,1),(2365,432),(2380,428),(2273,423,1),(2282,420),(2293,447,1),(2283,447),(2369,448),(2297,470),(2305,485),(2265,487),(2260,493),(2260,503),(2391,499),(2440,501),(2315,500),(2307,518),(2320,515),(2316,538),(2293,558),(2326,560),(2308,574),(2338,576),(2348,587),(2539,583),(2720,621),(2347,624),(2363,633,1),(2322,638),(2402,635),(2278,638,1),(2395,654),(2328,653,1),(2338,660),(2343,655),(2355,659),(2367,660,1),(2413,675),(2379,683,1),(2302,675),(2260,677,1),(2323,685,1),(2417,692,1),(2533,688,1),(2540,692),(2388,697),(2265,693),(2258,650),(2262,660),(2263,643)]
z6_red = [(2688,268),(2658,293,1),(2682,283,1),(2692,290,1),(2702,277),(2715,280),(2687,280),(2702,288),(2677,297),(2687,307),(2672,308),(2717,301,1),(2710,308),(2690,315),(2667,317),(2703,318,1),(2710,337,1),(2278,667,1),(2352,687,1),(2486,680),(2287,482,1)]

z7_cyan = [(1801,488,1),(1812,490),(1820,488,1),(1842,488),(1857,483),(1863,485,1),(1874,488),(1909,492,1),(1926,484),(1842,503,1),(1858,505,1),(1863,502),(1877,508),(1888,505),(1893,518,1),(1900,522,1),(1913,515),(1922,513),(1812,512),(1825,513),(1828,522,1),(1842,515),(1850,518),(1868,520,1),(1793,518,1),(1857,523),(1818,523),(1782,539,1),(1812,533),(1818,532),(1835,533),(1848,533),(1860,533),(1873,535,1),(1880,532),(1910,527),(1923,527),(1953,528),(1835,542),(1850,543),(1867,540),(1873,542),(1893,540),(1918,538),(1927,546,1),(1947,542,1),(1958,547),(1947,548),(1987,556),(1799,555),(1812,550,1),(1832,552),(1845,553),(1865,555,1),(1863,560,1),(1883,552,1),(1890,558),(1880,562,1),(1875,563),(1903,549),(1908,547),(1915,556),(1948,560),(1827,565,1),(1836,567,1),(1902,563,1),(1857,564),(1783,573,1),(1925,566),(1930,572,1),(1937,578),(1804,578),(1823,576),(1872,575),(1883,575),(1897,578),(1909,577),(1848,583),(1852,583),(1864,585),(1886,596,1),(1878,602),(1916,597,1),(1948,614,1),(1956,632),(1952,637),(1942,643),(1953,647),(2028,682,1),(2023,697),(2092,917,1),(2099,573,1),(2090,598),(2123,555,1),(2120,570),(2120,582),(2150,576,1),(2138,568),(2153,558),(2173,590,1),(2133,540),(2143,535,1),(2145,545,1),(2130,515,1),(2130,525),(2133,503),(2161,505),(2201,510,1),(2188,643),(2196,722,1),(2220,700),(2173,487)]
z7_orange = [(1723,516,1),(1736,617,1),(1750,623,1),(1799,627),(1819,635),(1819,643),(1853,631,1),(1787,653,1),(1795,652),(1790,660,1),(1797,660,1),(1843,657),(1843,665),(1806,671),(1828,673,1),(1887,665),(1892,675),(1878,673),(1853,677,1),(1863,680,1),(1827,683),(1840,683),(1873,688,1),(1883,687,1),(1887,693),(1918,680,1),(1792,694),(1809,692),(1850,690,1),(1860,692,1),(1870,693),(1827,700),(1853,700,1),(1867,702,1),(1877,698,1),(1836,706),(1888,702),(1900,707),(1773,707,1),(1805,711),(1820,710),(1857,710),(1843,713),(1873,712),(1832,719,1),(1887,725),(1818,727),(1822,733),(1840,722,1),(1848,725,1),(1870,728,1),(1792,727),(1727,723,1),(1813,717),(1833,733),(1847,737,1),(1857,740),(1812,740),(1823,743),(1870,743),(1794,748,1),(1835,748),(1847,750),(1860,750),(1850,758),(1843,760),(1865,758,1),(1815,763,1),(1828,763),(1810,770),(1817,773),(1828,775),(1850,768),(1863,775,1),(1877,776,1),(1873,777),(1778,768,1),(1801,778),(1818,780),(1840,780,1),(1848,783,1),(1853,777),(1837,787),(1812,792),(1826,795,1),(1850,795),(1875,795),(1840,804,1),(1864,803,1),(1819,807),(1903,815,1),(1918,718),(1942,718,1),(1962,719),(1982,715),(1996,725),(2016,717),(1915,733),(1927,735),(1940,735,1),(1953,737,1),(1963,738),(1987,730),(1978,743,1),(1943,743),(1933,745),(1925,750),(1910,753),(1895,753),(1886,753),(1938,758),(1960,766,1),(1920,772,1),(1897,778),(1940,783,1),(1990,769,1),(1945,804,1),(1976,806),(2045,722),(2048,733),(2058,738),(2077,723,1),(2072,723,1),(2085,737),(2089,717,1),(2093,755),(2098,769,1),(2117,792,1),(2118,775),(2105,740),(2110,747),(2118,740),(2105,703,1),(2107,687),(2071,672,1),(2080,673),(2043,664),(2018,659),(2002,649),(1982,648,1),(2052,643),(2023,629),(2032,635,1),(2043,630),(2043,607),(2050,593,1),(2074,586,1),(2043,575),(2032,580),(1966,569),(1953,587),(1967,533),(2031,554,1),(2040,547),(2047,548,1),(2053,543),(2034,562),(2084,528,1),(2107,533),(2072,515,1),(2077,503,1),(2067,507),(2097,497),(2107,490),(2110,510,1),(2108,502),(2118,492),(1954,691),(1978,690),(2157,654),(2170,656,1),(2147,723),(2125,822,1),(2085,813),(2093,810),(2088,817),(2168,812),(2178,813,1),(2168,823,1),(2177,823,1),(2183,823),(2117,884),(2212,801),(2172,948,1),(1943,879,1),(1982,823)]
z7_pink = [(1923,711),(1973,623),(1977,641),(1999,630),(2047,625),(2062,598),(2098,510),(2118,505),(2127,490),(2113,483),(2123,485),(2173,538,1),(2182,560),(2166,575),(2193,576),(2145,559),(2161,555),(2165,518),(2177,515),(2172,500),(2203,588),(2202,624),(2217,634,1),(2179,638),(2183,655,1),(2198,657),(2193,660),(2210,660),(2220,660,1),(2120,678,1),(2160,675),(2124,693),(2180,685,1),(2203,703),(2173,712),(2188,717,1),(2161,731,1),(2170,737),(2177,751,1),(2112,725,1),(2133,738,1),(2113,747),(2122,747),(2120,757),(2127,750),(2117,763),(2105,641),(2118,650),(2122,660),(2123,643),(2095,668),(2075,658),(2103,625),(2153,778),(2188,805),(2176,843),(2158,895,1),(2222,907,1),(2178,725,1)]
z7_red = [(1980,490,1),(1980,500,1),(2033,523),(2063,570),(2076,623,1),(2037,623),(2083,630),(2093,638,1),(2077,637),(2077,648),(2088,650),(2100,654),(2059,657),(2088,667,1),(2137,667,1),(2207,687,1),(1956,663),(2062,687),(2087,687),(2053,695,1),(2076,693,1),(2062,707),(2091,703),(2133,713),(2127,727),(2145,737),(2152,747,1),(2035,729,1),(2069,748,1),(2077,742),(2027,764,1),(2033,758,1),(2055,762),(2060,765,1),(2068,765),(2067,775),(2053,780,1),(2074,787,1),(2143,776,1),(2202,767,1),(1995,795),(2025,793,1),(2036,805,1),(2030,810),(2008,814),(2049,813),(2074,822),(1991,823),(1973,828),(2013,825),(2015,833,1),(2005,835),(2020,838),(2053,829,1),(2047,833),(2040,842),(1988,843),(1985,852),(2009,850,1),(2028,849),(1998,858,1),(1970,858),(2024,860,1),(2047,862,1),(2055,859),(1929,840,1),(2013,867,1),(1977,872),(1992,876,1),(2000,875),(2022,875,1),(2035,877),(2037,882,1),(1977,887),(1989,888),(2006,885),(2017,893),(1996,901,1),(1897,889,1),(2102,852,1)]
z7_olive = [(1969,497),(2007,512,1),(2044,507,1),(2066,544),(2007,593,1),(2011,603),(1912,626,1),(2053,677),(2007,692,1),(2145,678),(2112,708),(1993,760),(2098,785),(2148,788),(1882,853),(1953,483,1),(1960,482),(2068,493),(2057,483),(2102,483),(1843,482)]
z7_brown = [(1702,564,1),(1937,508),(2003,547,1),(2004,555,1),(2076,550,1),(2048,515),(2097,553,1),(2188,498,1),(2147,508),(2133,488),(1976,586,1),(2053,582),(2040,591),(2119,597),(2107,605),(2102,616),(2123,610),(2132,615),(2128,622,1),(2142,607),(2150,607),(2148,617),(2143,617),(2173,613,1),(2142,638,1),(1863,665),(1909,654,1),(1753,679),(2147,699,1),(1994,673,1),(2134,762),(2137,857)]
z7_blue = [(1878,637,1),(2056,563),(2035,535,1),(2035,542,1),(2156,495,1),(2218,500,1)]

# true-scale crops
z8_brown = [(2275,98),(2342,98),(2283,114,1),(2303,108),(2312,115),(2299,117,1),(2307,122),(2293,117),(2370,58,1),(2455,69),(2483,72),(2477,85,1),(2463,87),(2497,88,1),(2449,94),(2460,98,1),(2477,98,1),(2493,97,1),(2505,97),(2516,103),(2452,107,1),(2463,108,1),(2480,108,1),(2490,105),(2502,107,1),(2470,117),(2477,118,1),(2490,119,1),(2500,118),(2513,117),(2436,118),(2453,123),(2458,122,1),(2403,128),(2435,134),(2279,134),(2296,132),(2470,133),(2480,135,1),(2487,127),(2505,141,1),(2502,141),(2324,143),(2315,147,1),(2292,151),(2357,151,1),(2447,151),(2595,136,1),(2533,163),(2652,162,1),(2302,163,1),(2310,163,1),(2312,170,1),(2308,173),(2281,167,1),(2330,177,1),(2332,173),(2328,183),(2349,177,1),(2354,185),(2426,173,1),(2483,167,1),(2484,175),(2582,173,1),(2525,181,1),(2385,183),(2283,187),(2295,201,1),(2395,202),(2456,199,1),(2470,199),(2559,203,1),(2617,204,1)]
z8_olive = [(2491,51,1),(2432,84),(2300,203)]
z8_pink = [(2391,71)]
z8_orange = [(2421,104)]

z9_pink = [(2426,697),(2461,693,1),(2410,762,1),(2457,727,1),(2425,793),(2455,759),(2466,777),(2481,786,1),(2490,794),(2497,758),(2504,758),(2523,752),(2533,749),(2543,749,1),(2552,780,1),(2571,791),(2508,789),(2497,802),(2508,803),(2517,802),(2522,808,1),(2528,817),(2480,814),(2562,816,1),(2600,812,1),(2612,804,1),(2667,804),(2663,824,1),(2447,825),(2460,823),(2477,827),(2497,828,1),(2500,825),(2527,823),(2536,827),(2409,842),(2437,852,1),(2498,838),(2545,842,1),(2567,837,1),(2578,829),(2590,829),(2560,847),(2597,845),(2605,838,1),(2483,849),(2490,850,1),(2497,850),(2520,851),(2527,851,1),(2579,850),(2635,848),(2643,852),(2652,854,1),(2618,853),(2622,862),(2592,858),(2603,858),(2542,862),(2552,863),(2563,861,1),(2595,865,1),(2597,872,1),(2503,870),(2517,867),(2532,875),(2553,872),(2565,872),(2490,875,1),(2490,884,1),(2508,878),(2547,878),(2582,878),(2611,872),(2628,875),(2630,878,1),(2652,876),(2466,883,1),(2518,887),(2582,887),(2595,880),(2552,890),(2560,892),(2570,893,1),(2605,887),(2613,890),(2622,890,1),(2557,900,1),(2573,900),(2528,898),(2538,898),(2592,896),(2587,903),(2653,897),(2483,903),(2502,904,1),(2457,912),(2497,911),(2533,907),(2548,910),(2604,908),(2631,907),(2516,915),(2547,917),(2611,918),(2532,921),(2560,921),(2580,921,1),(2486,926,1),(2497,927),(2567,927,1),(2622,939),(2507,952),(2578,953,1),(2400,906,1),(2613,705,1),(2627,707,1),(2605,707),(2623,715),(2615,695)]
z9_cyan = [(2510,718,1)]
z9_blue = [(2532,944,1),(2707,705,1),(2410,733,1)]
z9_brown = [(2763,727,1)]
z9_olive = [(2648,744)]

caption_marks = ["(", "a", ")", "DGI", "(", "b", ")", "AMPGCL"]

COLORS = {"blue": "#1f77b4", "orange": "#ff7f0e", "red": "#d62728", "brown": "#8c564b",
          "pink": "#e377c2", "olive": "#bcbd22", "cyan": "#17becf"}

GROUPS = [
    ("z1", 0, 0, 3 / 2.24, lambda x, y: x < 675 and y < 490),
    ("z2", 650, 0, 3 / 2.24, lambda x, y: x >= 675 and y < 490),
    ("z3", 100, 480, 3 / 2.24, lambda x, y: x < 750 and y >= 490),
    ("z4", 700, 480, 3 / 2.24, lambda x, y: x >= 750 and y >= 490),
    ("z5", 1600, 0, 3 / 2.24, lambda x, y: x < 2275 and y < 490),
    ("z6", 2250, 200, 3 / 2.3686, lambda x, y: x >= 2275 and 205 <= y < 700),
    ("z7", 1700, 480, 3 / 2.24, lambda x, y: y >= 490 and not (x >= 2275 and y < 700)),
    ("z8", 2250, 0, 1.0, lambda x, y: x >= 2275 and y < 205),
    ("z9", 2300, 690, 1.0, lambda x, y: x >= 2400 and y >= 700),
]

p = figure(width=2896, height=1102, x_range=Range1d(8, 2904), y_range=Range1d(1110, 8),
           toolbar_location=None, output_backend="svg", min_border=0)
p.axis.visible = False
p.grid.visible = False
p.outline_line_color = None
p.background_fill_color = "white"

ns = globals()
for name in ["brown", "olive", "blue", "cyan", "orange", "pink", "red"]:
    xs, ys, alphas = [], [], []
    for gid, ox, oy, sx, keep in GROUPS:
        for pt in ns.get(f"{gid}_{name}", []):
            x = ox + (pt[0] - ox) * sx
            y = pt[1]
            if keep(x, y):
                xs.append(x)
                ys.append(y)
                alphas.append(0.72 if len(pt) > 2 else 0.5)
    src = ColumnDataSource(dict(x=xs, y=ys, a=alphas))
    p.scatter("x", "y", source=src, size=13, fill_color=COLORS[name], fill_alpha="a",
              line_color="white", line_alpha=0.5, line_width=0.8)

for text, x, bold in zip(caption_marks, [15, 38, 74, 121, 1597, 1623, 1665, 1709],
                         [False, True, False, False, False, True, False, False]):
    p.text([x], [1064], text=[text], text_font=value("Liberation Serif"), text_font_size="78px",
           text_font_style="bold" if bold else "normal", text_color="black",
           text_baseline="alphabetic", text_align="left")

open("out.html", "w").write(file_html(p, INLINE))
